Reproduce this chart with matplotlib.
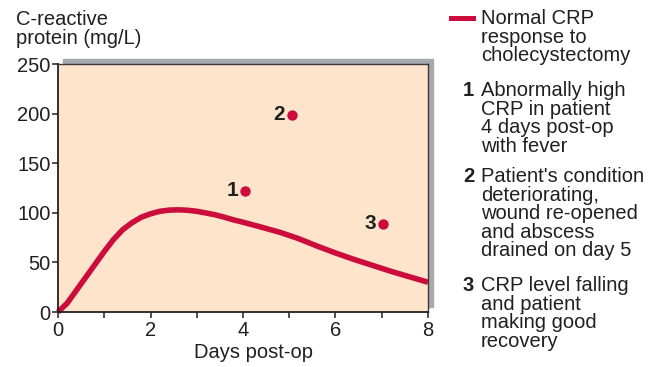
import matplotlib
matplotlib.use("Agg")
import matplotlib.pyplot as plt
from matplotlib.patches import Rectangle

# Normal CRP response curve
days = [0, 0.2, 0.4, 0.6, 0.8, 1.0, 1.2, 1.4, 1.6, 1.8, 2.0, 2.2, 2.4, 2.6,
        2.8, 3.0, 3.2, 3.4, 3.6, 3.8, 4.0, 4.4, 4.8, 5.2, 5.6, 6.0, 6.4,
        6.8, 7.2, 7.6, 8.0]
crp = [0, 9, 22, 35, 48, 61, 73, 83, 90, 95.5, 99, 101.5, 102.7, 103,
       102.6, 101.5, 99.8, 98, 95.5, 92.8, 90.5, 85.5, 80.3, 74, 66.5, 59.5,
       53, 47, 41, 35.5, 30]

# Patient observations
obs_labels = ['1', '2', '3']
obs_days = [4.05, 5.06, 7.02]
obs_crp = [122, 199, 89]

xticks = [0, 2, 4, 6, 8]
yticks = [0, 50, 100, 150, 200, 250]

legend_line = ['Normal CRP', 'response to', 'cholecystectomy']
notes = [
    ['Abnormally high', 'CRP in patient', '4 days post-op', 'with fever'],
    ["Patient's condition", 'deteriorating,', 'wound re-opened',
     'and abscess', 'drained on day 5'],
    ['CRP level falling', 'and patient', 'making good', 'recovery'],
]

RED = '#cc0c3c'
PEACH = '#fde4ca'
GREY = '#a7a9ac'
INK = '#231f20'
W, H = 667, 367
FS = 14.5

plt.rcParams['font.family'] = ['Liberation Sans', 'DejaVu Sans']

fig = plt.figure(figsize=(W / 100, H / 100), dpi=100)


def px(x, y):
    return x / W, 1 - y / H


ax = fig.add_axes([58 / W, 55 / H, 370 / W, 248 / H])
ax.set_zorder(1)
ax.set_facecolor(PEACH)

# grey drop shadow behind the plot area
fig.add_artist(Rectangle((63 / W, 60 / H), 370 / W, 248 / H,
                         transform=fig.transFigure, color=GREY, zorder=0.5))

ax.plot(days, crp, color=RED, lw=4.0, solid_capstyle='butt',
        solid_joinstyle='round', clip_on=False)
ax.plot(obs_days, obs_crp, 'o', color=RED, ms=7.5, mec='none')
for lab, d, v in zip(obs_labels, obs_days, obs_crp):
    ax.annotate(lab, (d, v), xytext=(-5, 0), textcoords='offset points',
                ha='right', va='center', fontsize=15, fontweight='bold',
                color=INK)

ax.set_xlim(0, 8)
ax.set_ylim(0, 250)
ax.set_xticks(xticks)
ax.set_xticks([1, 3, 5, 7], minor=True)
ax.set_yticks(yticks)
ax.tick_params(which='both', direction='out', length=4.3, width=1.1,
               color=INK, labelsize=FS, labelcolor=INK)
ax.tick_params(axis='y', pad=1)
ax.tick_params(axis='x', pad=2.5)
for s in ['left', 'bottom']:
    ax.spines[s].set_color(INK)
    ax.spines[s].set_linewidth(1.3)
for s in ['top', 'right']:
    ax.spines[s].set_color('#3a3a3a')
    ax.spines[s].set_linewidth(1.0)

# axis titles
fig.text(*px(16, 25), 'C-reactive', fontsize=FS, color=INK, va='baseline')
fig.text(*px(16, 43.5), 'protein (mg/L)', fontsize=FS, color=INK,
         va='baseline')
fig.text(*px(253, 358), 'Days post-op', fontsize=FS, color=INK,
         ha='center', va='baseline')

# legend / notes on the right
fig.add_artist(plt.Line2D([451 / W, 473 / W], [1 - 18 / H, 1 - 18 / H],
                          transform=fig.transFigure, color=RED, lw=3.6))
pitch = 18.6
for i, line in enumerate(legend_line):
    fig.text(*px(481, 24 + i * pitch), line, fontsize=FS, color=INK,
             va='baseline')
starts = [96, 182, 291]
for lab, block, y0 in zip(obs_labels, notes, starts):
    fig.text(*px(474, y0), lab, fontsize=14.5, fontweight='bold', color=INK,
             ha='right', va='baseline')
    for i, line in enumerate(block):
        fig.text(*px(481, y0 + i * pitch), line, fontsize=FS, color=INK,
                 va='baseline')

fig.savefig('out.png', dpi=100)
